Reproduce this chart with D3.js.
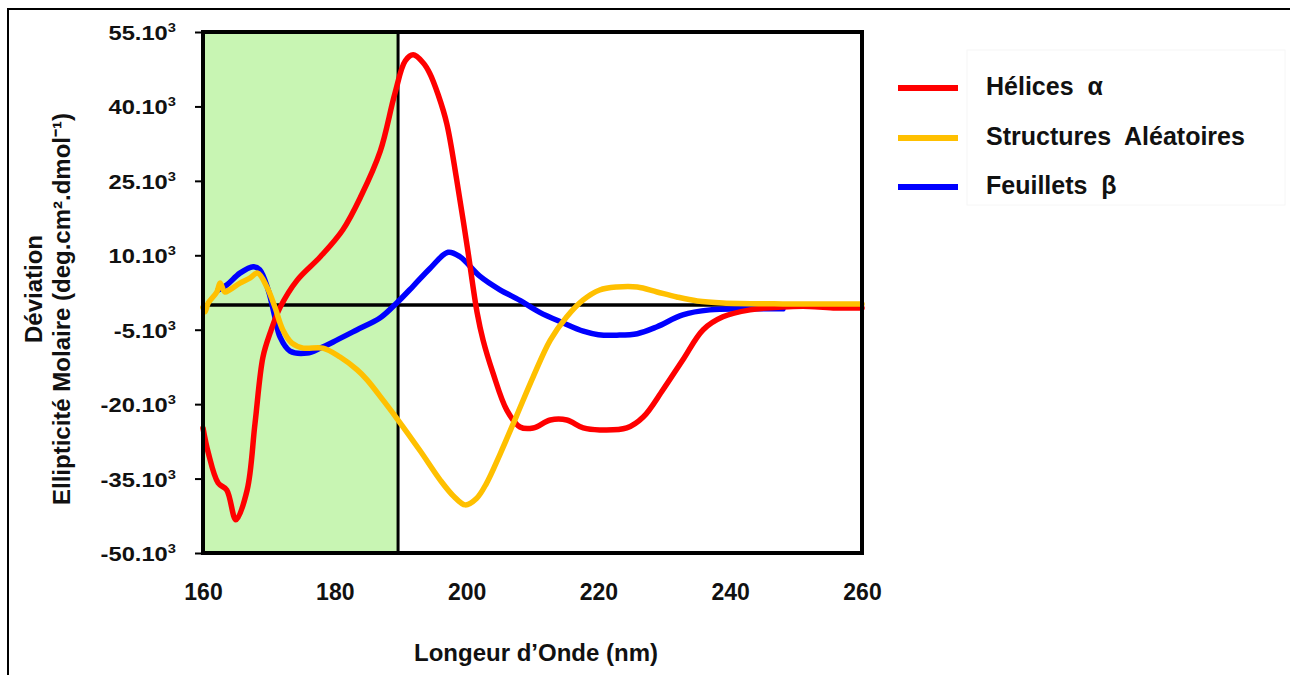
<!DOCTYPE html>
<html>
<head>
<meta charset="utf-8">
<script src="https://cdn.jsdelivr.net/npm/d3@7"></script>
<style>
  html, body { margin: 0; padding: 0; background: #ffffff; }
  svg { display: block; }
  text { font-family: "Liberation Sans", Arial, sans-serif; font-weight: bold; fill: #111; }
</style>
</head>
<body>
<svg id="chart" width="1290" height="675"></svg>
<script>
// ---- data (ellipticity in units of 10^3 deg.cm².dmol⁻¹) ----
const helixX = [160, 160.8, 162.3, 163.6, 165.0, 166.7, 167.9, 169.1, 170.2, 171.7, 174.3, 177.8, 181.2, 184.0, 186.9, 189.1, 190.7, 191.9, 193.4, 194.4, 195.7, 197.0, 198.5, 200.1, 201.6, 202.5, 204.0, 206.1, 208.1, 210.1, 212.7, 215.2, 217.7, 220.2, 224.3, 226.8, 229.8, 232.8, 235.9, 238.9, 243.0, 248.0, 252.0, 256.0, 260.0];
const helixY = [-24.8, -29.8, -35.9, -37.3, -43.3, -37.3, -23.8, -10.5, -5.6, -0.5, 5.0, 9.7, 15.1, 22.0, 31.0, 42.5, 49.2, 50.4, 48.8, 46.7, 42.3, 36.5, 25.2, 11.7, -1.6, -7.1, -13.7, -21.2, -24.6, -24.8, -23.2, -23.2, -24.8, -25.2, -24.8, -22.6, -17.1, -11.1, -5.0, -2.4, -1.0, -0.4, -0.3, -0.6, -0.6];

const randomX = [160, 160.3, 160.8, 162.1, 162.6, 163.3, 164.0, 165.6, 167.1, 168.3, 169.7, 170.9, 172.1, 173.5, 175.2, 178.2, 180.8, 183.4, 184.9, 187.5, 189.6, 193.0, 196.0, 198.0, 199.8, 201.5, 203.0, 205.1, 207.6, 210.1, 212.7, 215.2, 217.7, 220.2, 222.8, 225.9, 228.9, 231.9, 235.0, 238.9, 248.0, 260.0];
const randomY = [-0.5, -1.4, 0.4, 2.6, 4.4, 2.6, 3.0, 4.4, 5.4, 6.4, 3.6, -0.4, -5.0, -7.7, -8.7, -8.7, -10.5, -13.1, -15.1, -19.5, -23.2, -29.5, -35.3, -38.5, -40.3, -39.0, -36.0, -30.0, -22.3, -14.5, -7.1, -2.4, 1.0, 3.0, 3.6, 3.6, 2.6, 1.6, 0.8, 0.4, 0.2, 0.2];

const sheetX = [162.3, 163.6, 165.6, 167.6, 168.6, 169.9, 170.9, 171.7, 173.2, 175.8, 177.8, 180.3, 183.4, 186.9, 189.4, 191.9, 194.4, 197.2, 199.0, 202.0, 205.0, 208.1, 211.1, 214.6, 217.7, 220.0, 222.8, 225.9, 228.9, 232.8, 236.9, 241.9, 248.0];
const sheetY = [3.0, 4.0, 6.4, 7.7, 7.1, 3.0, -2.4, -6.5, -9.3, -9.7, -8.7, -7.1, -5.0, -2.6, 0.4, 3.8, 7.3, 10.6, 9.7, 5.8, 3.1, 0.9, -1.5, -3.6, -5.3, -6.0, -6.1, -5.8, -4.4, -2.0, -1.0, -0.8, -0.8];

const seriesNames = ["Hélices  α", "Structures  Aléatoires", "Feuillets  β"];
const seriesColors = ["#ff0000", "#ffc000", "#0000ff"];

const xTicks = [160, 180, 200, 220, 240, 260];
const yTicks = [55, 40, 25, 10, -5, -20, -35, -50];
const shadeRange = [160, 189.6];

const xTitle = "Longeur d\u2019Onde (nm)";
const yTitle1 = "Déviation";
const yTitle2 = "Ellipticité Molaire (deg.cm².dmol⁻¹)";

// ---- layout ----
const svg = d3.select("#chart");
const plot = { left: 203, right: 862, top: 32, bottom: 553 };

const x = d3.scaleLinear().domain([160, 260]).range([plot.left, plot.right]);
const y = d3.scaleLinear().domain([-50, 55]).range([plot.bottom, plot.top]);

// outer frame (top and left edges)
svg.append("path")
  .attr("d", `M8,675 L8,9 L1290,9`)
  .attr("fill", "none").attr("stroke", "#000").attr("stroke-width", 2);

// shaded region
svg.append("rect")
  .attr("x", x(shadeRange[0])).attr("y", plot.top)
  .attr("width", x(shadeRange[1]) - x(shadeRange[0]))
  .attr("height", plot.bottom - plot.top)
  .attr("fill", "#c8f5b3");

// zero line
svg.append("line")
  .attr("x1", plot.left).attr("x2", plot.right)
  .attr("y1", y(0)).attr("y2", y(0))
  .attr("stroke", "#000").attr("stroke-width", 3.5);

// vertical divider
svg.append("line")
  .attr("x1", x(shadeRange[1])).attr("x2", x(shadeRange[1]))
  .attr("y1", plot.top).attr("y2", plot.bottom)
  .attr("stroke", "#000").attr("stroke-width", 3);

// curves
const line = d3.line()
  .x(d => x(d[0])).y(d => y(d[1]))
  .curve(d3.curveCatmullRom.alpha(0.5));

const series = [
  { xs: sheetX, ys: sheetY, color: seriesColors[2] },
  { xs: helixX, ys: helixY, color: seriesColors[0] },
  { xs: randomX, ys: randomY, color: seriesColors[1] }
];
series.forEach(s => {
  svg.append("path")
    .datum(s.xs.map((v, i) => [v, s.ys[i]]))
    .attr("d", line)
    .attr("fill", "none")
    .attr("stroke", s.color)
    .attr("stroke-width", 5.5)
    .attr("stroke-linejoin", "round")
    .attr("stroke-linecap", "round");
});

// plot frame
svg.append("rect")
  .attr("x", plot.left).attr("y", plot.top)
  .attr("width", plot.right - plot.left).attr("height", plot.bottom - plot.top)
  .attr("fill", "none").attr("stroke", "#000").attr("stroke-width", 4);

// y axis ticks
const yAxis = d3.axisLeft(y).tickValues(yTicks).tickSize(8).tickPadding(0).tickFormat("");
const gy = svg.append("g").attr("transform", `translate(${plot.left},0)`).call(yAxis);
gy.select(".domain").remove();
gy.selectAll(".tick line").attr("stroke", "#000").attr("stroke-width", 2);

const yLab = svg.append("g").selectAll("text").data(yTicks).join("text")
  .attr("transform", d => `translate(176,${y(d) + 8}) scale(1.13,1)`)
  .attr("text-anchor", "end")
  .style("font-size", "21px");
yLab.append("tspan").text(d => d + ".10");
yLab.append("tspan").attr("dy", -8).style("font-size", "13px").text("3");

// x axis labels
const xAxis = d3.axisBottom(x).tickValues(xTicks).tickSize(0).tickPadding(0).tickFormat(d => d);
const gx = svg.append("g").attr("transform", `translate(0,${plot.bottom})`).call(xAxis);
gx.select(".domain").remove();
gx.selectAll(".tick text")
  .attr("y", 47).attr("dy", 0)
  .style("font-size", "23px")
  .style("font-family", "'Liberation Sans', Arial, sans-serif")
  .style("font-weight", "bold")
  .attr("fill", "#111");

// axis titles
svg.append("text")
  .attr("x", 536).attr("y", 661)
  .attr("text-anchor", "middle")
  .style("font-size", "24px")
  .text(xTitle);

svg.append("text")
  .attr("transform", "translate(42,289) rotate(-90)")
  .attr("text-anchor", "middle")
  .style("font-size", "24px")
  .text(yTitle1);
svg.append("text")
  .attr("transform", "translate(70,309) rotate(-90)")
  .attr("text-anchor", "middle")
  .style("font-size", "24px")
  .text(yTitle2);

// legend
const lg = svg.append("g");
lg.append("rect")
  .attr("x", 967).attr("y", 50).attr("width", 318).attr("height", 155)
  .attr("fill", "#fff").attr("stroke", "#f6f6f6").attr("stroke-width", 1);
const rowsY = [88, 138, 187];
seriesNames.forEach((name, i) => {
  lg.append("line")
    .attr("x1", 898).attr("x2", 958)
    .attr("y1", rowsY[i]).attr("y2", rowsY[i])
    .attr("stroke", seriesColors[i]).attr("stroke-width", 6);
  lg.append("text")
    .attr("x", 986).attr("y", rowsY[i] + 7)
    .style("font-size", "25px")
    .attr("xml:space", "preserve")
    .style("white-space", "pre")
    .text(name);
});
</script>
</body>
</html>
